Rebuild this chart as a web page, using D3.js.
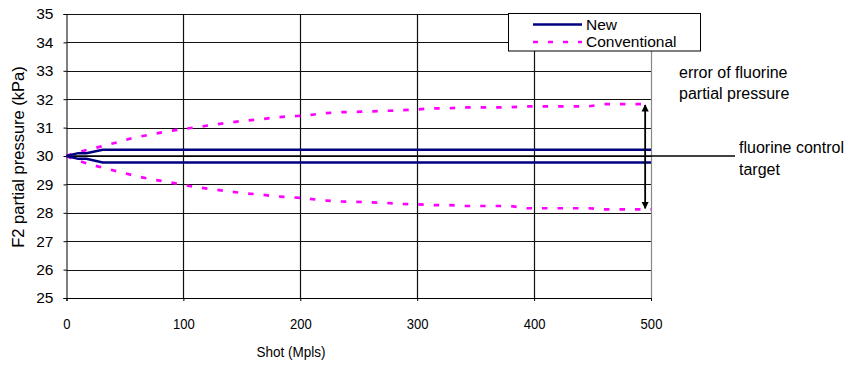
<!DOCTYPE html>
<html>
<head>
<meta charset="utf-8">
<script src="https://cdn.jsdelivr.net/npm/d3@7"></script>
<style>
  body { margin: 0; background: #fff; }
  text { font-family: "Liberation Sans", Arial, sans-serif; fill: #000; }
</style>
</head>
<body>
<svg id="chart" width="851" height="367"></svg>
<script>
// shot (Mpls) sample positions for the conventional control
const convShots = [0, 4, 17, 31, 45, 58, 71, 85, 98, 111, 125, 138, 152, 166, 179, 192, 206, 219, 232, 246,
  260, 273, 287, 300, 314, 327, 341, 354, 367, 380, 394, 407, 421, 434, 447, 460, 474, 487, 500];
const convUpper = [30.0, 30.06, 30.21, 30.35, 30.50, 30.65, 30.75, 30.86, 30.94, 31.01, 31.10, 31.17, 31.24, 31.29,
  31.36, 31.40, 31.43, 31.50, 31.54, 31.55, 31.57, 31.59, 31.61, 31.64, 31.68, 31.68, 31.71, 31.71, 31.71, 31.72,
  31.75, 31.75, 31.75, 31.75, 31.75, 31.83, 31.83, 31.83, 31.83];
const convLower = [30.0, 29.93, 29.74, 29.59, 29.44, 29.31, 29.19, 29.10, 29.00, 28.90, 28.83, 28.76, 28.69, 28.64,
  28.58, 28.55, 28.50, 28.44, 28.40, 28.39, 28.37, 28.35, 28.31, 28.30, 28.27, 28.27, 28.24, 28.24, 28.24, 28.24,
  28.16, 28.16, 28.16, 28.16, 28.16, 28.12, 28.12, 28.12, 28.12];

// new control: stepped band around the target
const newShots = [0, 10, 17, 31, 500];
const newUpper = [30, 30.1, 30.1, 30.22, 30.22];
const newLower = [30, 29.9, 29.9, 29.77, 29.77];

const target = 30;
const xTicks = [0, 100, 200, 300, 400, 500];
const yTicks = [25, 26, 27, 28, 29, 30, 31, 32, 33, 34, 35];
const legendLabels = ["New", "Conventional"];

const svg = d3.select("#chart");
const plotLeft = 66.5, plotRight = 651, plotTop = 14, plotBottom = 298;

const x = d3.scaleLinear().domain([0, 500]).range([plotLeft, plotRight]);
const y = d3.scaleLinear().domain([25, 35]).range([plotBottom, plotTop]);

// gridlines
svg.append("g").selectAll("line")
  .data(yTicks)
  .enter().append("line")
  .attr("x1", plotLeft).attr("x2", plotRight)
  .attr("y1", d => Math.round(y(d)) + 0.5).attr("y2", d => Math.round(y(d)) + 0.5)
  .attr("stroke", "#111").attr("stroke-width", 1.2);

svg.append("g").selectAll("line")
  .data(xTicks.slice(1))
  .enter().append("line")
  .attr("x1", d => Math.round(x(d)) + 0.5).attr("x2", d => Math.round(x(d)) + 0.5)
  .attr("y1", plotTop).attr("y2", plotBottom)
  .attr("stroke", d => d === 500 ? "#888" : "#111").attr("stroke-width", 1.2);

// axes
const yAxis = svg.append("g")
  .attr("transform", "translate(" + plotLeft + ",0)")
  .call(d3.axisLeft(y).tickValues(yTicks).tickSize(3).tickPadding(10).tickFormat(d3.format("d")));
const xAxis = svg.append("g")
  .attr("transform", "translate(0," + plotBottom + ")")
  .call(d3.axisBottom(x).tickValues(xTicks).tickSize(3).tickPadding(17).tickFormat(d3.format("d")));
[yAxis, xAxis].forEach(a => {
  a.select(".domain").attr("stroke", "#000");
  a.selectAll(".tick line").attr("stroke", "#000");
  a.selectAll("text").attr("fill", "#000");
});
yAxis.selectAll("text").style("font-size", "15.5px");
// x labels in the original are slightly condensed
xAxis.selectAll("text").style("font-size", "15px").attr("transform", "scale(0.87,1)");

// target line, running out to its label
svg.append("line")
  .attr("x1", x(0)).attr("x2", 735)
  .attr("y1", y(target)).attr("y2", y(target))
  .attr("stroke", "#000").attr("stroke-width", 1.3);

const line = d3.line().x(d => x(d[0])).y(d => y(d[1]));

// conventional band
[convUpper, convLower].forEach(vals => {
  svg.append("path")
    .datum(convShots.map((s, i) => [s, vals[i]]))
    .attr("d", line)
    .attr("fill", "none")
    .attr("stroke", "#ff00ff")
    .attr("stroke-width", 2.7)
    .attr("stroke-dasharray", "5.5,10");
});

// new band
[newUpper, newLower].forEach(vals => {
  svg.append("path")
    .datum(newShots.map((s, i) => [s, vals[i]]))
    .attr("d", line)
    .attr("fill", "none")
    .attr("stroke", "#000080")
    .attr("stroke-width", 2.5);
});

// double arrow for the error range
const defs = svg.append("defs");
defs.append("marker")
  .attr("id", "head")
  .attr("viewBox", "0 0 10 10")
  .attr("refX", 9).attr("refY", 5)
  .attr("markerWidth", 4).attr("markerHeight", 5)
  .attr("orient", "auto-start-reverse")
  .append("path").attr("d", "M0,0L10,5L0,10Z").attr("fill", "#000");

svg.append("line")
  .attr("x1", x(495)).attr("x2", x(495))
  .attr("y1", y(convUpper[convUpper.length - 1]) + 1)
  .attr("y2", y(convLower[convLower.length - 1]) - 1)
  .attr("stroke", "#000").attr("stroke-width", 1.8)
  .attr("marker-start", "url(#head)")
  .attr("marker-end", "url(#head)");

// annotations
const notes = svg.append("g");
notes.append("text").attr("x", 679).attr("y", 78).style("font-size", "16px").text("error of fluorine");
notes.append("text").attr("x", 679).attr("y", 99).style("font-size", "16px").text("partial pressure");
notes.append("text").attr("x", 739).attr("y", 153).style("font-size", "16px").text("fluorine control");
notes.append("text").attr("x", 739).attr("y", 175).style("font-size", "16px").text("target");

// axis titles
svg.append("text")
  .attr("x", 291).attr("y", 357)
  .attr("text-anchor", "middle")
  .attr("textLength", 69).attr("lengthAdjust", "spacingAndGlyphs")
  .style("font-size", "15px")
  .text("Shot (Mpls)");
svg.append("text")
  .attr("transform", "translate(24,157) rotate(-90)")
  .attr("text-anchor", "middle")
  .style("font-size", "16.5px")
  .text("F2 partial pressure (kPa)");

// legend
const lg = svg.append("g");
lg.append("rect")
  .attr("x", 508.5).attr("y", 13.5).attr("width", 192).attr("height", 37.5)
  .attr("fill", "#fff").attr("stroke", "#000").attr("stroke-width", 1);
const legendStyles = [
  { color: "#000080", dash: null, y: 24.5 },
  { color: "#ff00ff", dash: "5,10", y: 42 }
];
legendLabels.forEach((name, i) => {
  const s = legendStyles[i];
  lg.append("line")
    .attr("x1", 533).attr("x2", 582)
    .attr("y1", s.y).attr("y2", s.y)
    .attr("stroke", s.color).attr("stroke-width", 2.5)
    .attr("stroke-dasharray", s.dash);
  lg.append("text").attr("x", 586).attr("y", s.y + 5).style("font-size", "15.5px").text(name);
});
</script>
</body>
</html>
